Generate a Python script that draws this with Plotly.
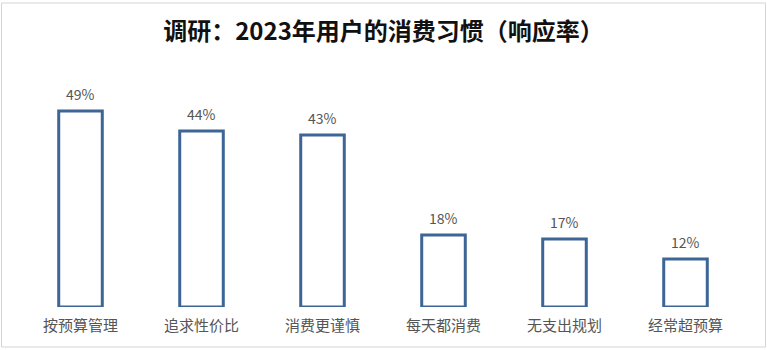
import plotly.graph_objects as go

categories = ["按预算管理", "追求性价比", "消费更谨慎", "每天都消费", "无支出规划", "经常超预算"]
values = [49, 44, 43, 18, 17, 12]
labels = [f"{v}%" for v in values]

W, H = 767, 350
ml, mr, mt, mb = 20, 21, 67, 43
pw, ph = W - ml - mr, H - mt - mb

def px(x):
    return (x - ml) / pw

def py(y):
    return (H - mb - y) / ph

fig = go.Figure()
fig.add_trace(go.Bar(
    x=categories, y=values,
    marker=dict(color="rgba(255,255,255,0)", line=dict(color="#3d6595", width=3)),
    width=0.36, hoverinfo="skip",
))
for c, v, t in zip(categories, values, labels):
    fig.add_annotation(x=c, y=v, text=t, showarrow=False, yanchor="bottom", yshift=5,
                       font=dict(size=14, color="#555555", family="Noto Sans CJK SC"))
fig.update_layout(
    width=W, height=H,
    margin=dict(l=ml, r=mr, t=mt, b=mb),
    paper_bgcolor="white", plot_bgcolor="white",
    showlegend=False,
    title=dict(text="<b>调研：2023年用户的消费习惯（响应率）</b>", x=0.5, xanchor="center",
               y=1 - 32 / H, yanchor="middle",
               font=dict(size=24, color="#111111", family="Noto Sans CJK SC")),
    xaxis=dict(showgrid=False, showline=False, zeroline=False, ticks="",
               ticklabelstandoff=8,
               tickfont=dict(size=15, color="#555555", family="Noto Sans CJK SC")),
    yaxis=dict(range=[0, 60], visible=False),
    shapes=[dict(type="rect", xref="paper", yref="paper",
                 x0=px(1.5), x1=px(765.5), y0=py(H - 347), y1=py(H - 3),
                 line=dict(color="#d4d4d4", width=1), fillcolor="rgba(0,0,0,0)", layer="below")],
)
fig.write_html("out.html")
